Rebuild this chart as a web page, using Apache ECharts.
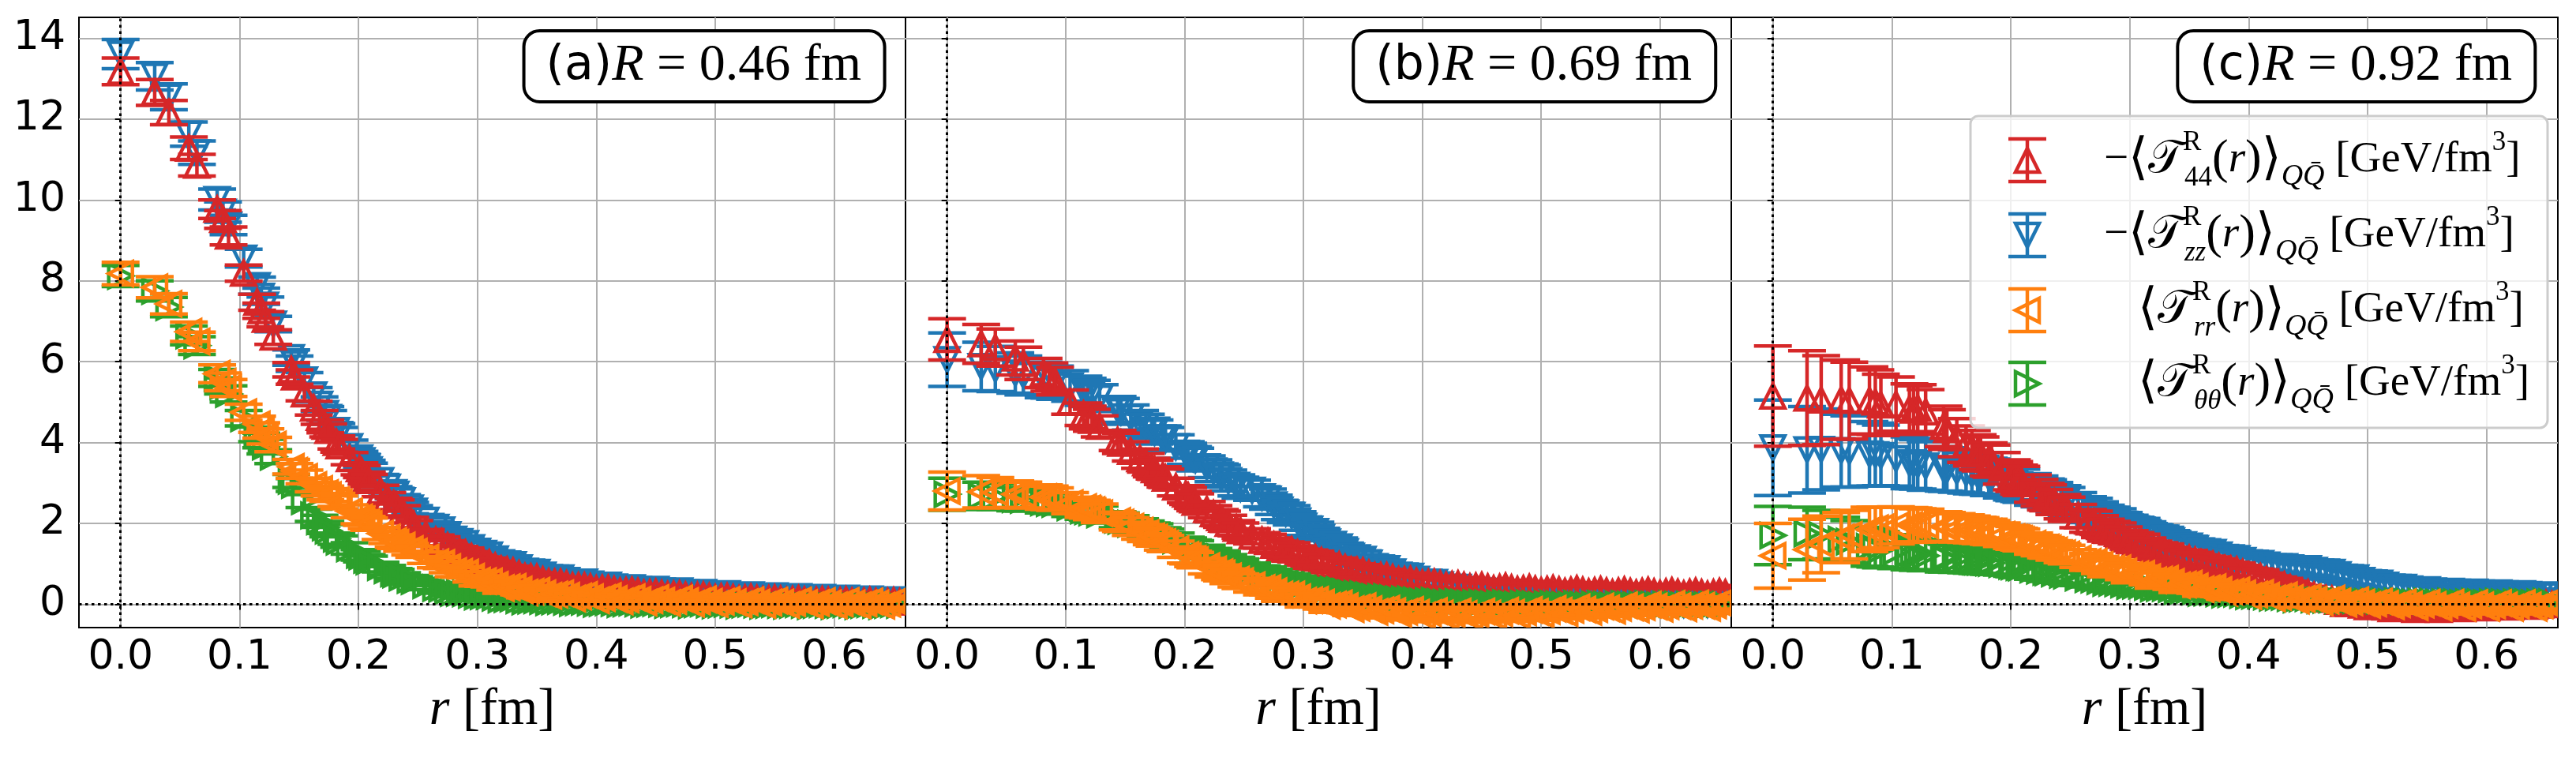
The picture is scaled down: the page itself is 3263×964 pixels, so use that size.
<!DOCTYPE html>
<html>
<head>
<meta charset="utf-8">
<title>QQbar EMT distributions</title>
<script src="https://cdn.jsdelivr.net/npm/echarts@6/dist/echarts.min.js"></script>
<style>
  html, body { margin: 0; padding: 0; background: #fff; }
  #chart { width: 3263px; height: 964px; }
</style>
</head>
<body>
<div id="chart"></div>
<script>
// distance from the Q-Qbar axis, r [fm] (shared by all panels)
const rGrid = [0, 0.0287, 0.0406, 0.0574, 0.0642, 0.0812, 0.0861, 0.0908, 0.1035, 0.1148, 0.1183, 0.1218, 0.1284,
  0.1435, 0.1463, 0.1546, 0.1624, 0.1673, 0.1722, 0.1746, 0.1815, 0.1838, 0.1925,
  0.2009, 0.2029, 0.2070, 0.2089, 0.2186, 0.2242, 0.2296, 0.2314, 0.2367, 0.2435, 0.2469, 0.2567,
  0.265, 0.27, 0.275, 0.28, 0.285, 0.29, 0.295, 0.3, 0.305, 0.31, 0.315, 0.32, 0.325, 0.33, 0.335, 0.34, 0.345, 0.35, 0.355, 0.36,
  0.365, 0.37, 0.375, 0.38, 0.385, 0.39, 0.395, 0.4, 0.405, 0.41, 0.415, 0.42, 0.425, 0.43, 0.435, 0.44, 0.445, 0.45, 0.455, 0.46,
  0.465, 0.47, 0.475, 0.48, 0.485, 0.49, 0.495, 0.5, 0.505, 0.51, 0.515, 0.52, 0.525, 0.53, 0.535, 0.54, 0.545, 0.55, 0.555, 0.56,
  0.565, 0.57, 0.575, 0.58, 0.585, 0.59, 0.595, 0.6, 0.605, 0.61, 0.615, 0.62, 0.625, 0.63, 0.635, 0.64, 0.645, 0.65, 0.655];

const xTicks = [0, 0.1, 0.2, 0.3, 0.4, 0.5, 0.6];
const yTicks = [0, 2, 4, 6, 8, 10, 12, 14];

// (a) R = 0.46 fm
const aT44 = [13.18, 12.66, 12.16, 11.28, 10.86, 9.77, 9.52, 9.11, 8.19, 7.47, 7.26, 7.05, 6.61,
  5.80, 5.62, 5.20, 4.85, 4.62, 4.40, 4.30, 4.00, 3.92, 3.60,
  3.35, 3.28, 3.12, 3.06, 2.80, 2.62, 2.48, 2.44, 2.30, 2.02, 1.94, 1.72,
  1.58, 1.54, 1.44, 1.33, 1.30, 1.26, 1.17, 1.08, 1.05, 1.02, 0.94, 0.86, 0.84, 0.82, 0.75, 0.68, 0.67, 0.66, 0.60, 0.55,
  0.54, 0.54, 0.50, 0.45, 0.45, 0.45, 0.42, 0.38, 0.39, 0.39, 0.36, 0.32, 0.33, 0.34, 0.31, 0.27, 0.28, 0.29, 0.26, 0.23,
  0.24, 0.25, 0.22, 0.19, 0.21, 0.22, 0.19, 0.16, 0.18, 0.19, 0.16, 0.13, 0.15, 0.17, 0.14, 0.11, 0.13, 0.15, 0.12, 0.09,
  0.11, 0.13, 0.10, 0.07, 0.09, 0.11, 0.09, 0.06, 0.08, 0.10, 0.07, 0.05, 0.07, 0.09, 0.06, 0.04, 0.06, 0.08, 0.05];
const aE44 = [0.33, 0.32, 0.30, 0.28, 0.27, 0.23, 0.22, 0.22, 0.20, 0.20, 0.19, 0.19, 0.18,
  0.18, 0.18, 0.17, 0.17, 0.17, 0.16, 0.16, 0.16, 0.16, 0.15,
  0.15, 0.15, 0.15, 0.15, 0.14, 0.14, 0.14, 0.14, 0.14, 0.13, 0.13, 0.13,
  0.13, 0.13, 0.13, 0.13, 0.13, 0.13, 0.13, 0.13, 0.12, 0.12, 0.12, 0.12, 0.12, 0.12, 0.12, 0.12, 0.12, 0.12, 0.12, 0.12,
  0.12, 0.12, 0.12, 0.12, 0.11, 0.11, 0.11, 0.11, 0.11, 0.11, 0.11, 0.11, 0.11, 0.11, 0.11, 0.11, 0.11, 0.11, 0.11, 0.11,
  0.10, 0.10, 0.10, 0.10, 0.10, 0.10, 0.10, 0.10, 0.10, 0.10, 0.10, 0.10, 0.10, 0.10, 0.10, 0.10, 0.10, 0.10, 0.10, 0.10,
  0.10, 0.10, 0.10, 0.10, 0.10, 0.10, 0.10, 0.10, 0.10, 0.10, 0.10, 0.10, 0.10, 0.10, 0.10, 0.10, 0.10, 0.10, 0.10];
const aZZ = [13.61, 13.06, 12.55, 11.63, 11.17, 10.01, 9.70, 9.38, 8.56, 7.88, 7.62, 7.40, 6.93,
  6.10, 5.95, 5.55, 5.18, 4.95, 4.72, 4.62, 4.30, 4.20, 3.90,
  3.62, 3.55, 3.40, 3.33, 3.06, 2.90, 2.76, 2.72, 2.56, 2.38, 2.30, 2.08,
  1.90, 1.84, 1.72, 1.61, 1.55, 1.50, 1.40, 1.31, 1.26, 1.22, 1.12, 1.03, 1.00, 0.98, 0.90, 0.82, 0.80, 0.79, 0.72, 0.66,
  0.65, 0.65, 0.59, 0.54, 0.54, 0.55, 0.50, 0.45, 0.46, 0.47, 0.43, 0.39, 0.40, 0.41, 0.37, 0.33, 0.35, 0.37, 0.33, 0.29,
  0.31, 0.33, 0.29, 0.25, 0.27, 0.29, 0.25, 0.22, 0.24, 0.26, 0.22, 0.19, 0.21, 0.23, 0.20, 0.17, 0.19, 0.21, 0.18, 0.15,
  0.17, 0.19, 0.16, 0.13, 0.15, 0.17, 0.14, 0.11, 0.13, 0.15, 0.12, 0.09, 0.11, 0.13, 0.10, 0.07, 0.09, 0.11, 0.08];
const aEZZ = [0.36, 0.34, 0.32, 0.30, 0.29, 0.26, 0.25, 0.24, 0.22, 0.21, 0.20, 0.20, 0.19,
  0.19, 0.19, 0.18, 0.18, 0.18, 0.17, 0.17, 0.17, 0.17, 0.16,
  0.16, 0.16, 0.16, 0.16, 0.15, 0.15, 0.15, 0.15, 0.15, 0.14, 0.14, 0.14,
  0.14, 0.14, 0.14, 0.14, 0.13, 0.13, 0.13, 0.13, 0.13, 0.13, 0.13, 0.13, 0.13, 0.13, 0.12, 0.12, 0.12, 0.12, 0.12, 0.12,
  0.12, 0.12, 0.11, 0.11, 0.11, 0.11, 0.11, 0.11, 0.11, 0.11, 0.11, 0.11, 0.11, 0.11, 0.11, 0.11, 0.10, 0.10, 0.10, 0.10,
  0.10, 0.10, 0.10, 0.10, 0.10, 0.10, 0.10, 0.10, 0.10, 0.10, 0.10, 0.10, 0.10, 0.10, 0.10, 0.10, 0.10, 0.10, 0.10, 0.10,
  0.10, 0.10, 0.10, 0.10, 0.10, 0.10, 0.10, 0.10, 0.10, 0.10, 0.10, 0.10, 0.10, 0.10, 0.10, 0.10, 0.10, 0.10, 0.10];
const aRR = [8.18, 7.84, 7.43, 6.74, 6.50, 5.70, 5.50, 5.35, 4.75, 4.45, 4.30, 4.15, 3.95,
  3.40, 3.30, 3.15, 2.95, 2.85, 2.75, 2.70, 2.58, 2.52, 2.30,
  2.15, 2.10, 2.02, 1.98, 1.75, 1.65, 1.56, 1.52, 1.45, 1.36, 1.30, 1.15,
  1.04, 1.02, 0.92, 0.82, 0.80, 0.78, 0.68, 0.58, 0.57, 0.56, 0.48, 0.40, 0.42, 0.43, 0.36, 0.29, 0.31, 0.33, 0.27, 0.21,
  0.24, 0.27, 0.21, 0.14, 0.19, 0.23, 0.17, 0.10, 0.15, 0.20, 0.13, 0.07, 0.12, 0.17, 0.11, 0.04, 0.10, 0.15, 0.09, 0.03,
  0.08, 0.14, 0.08, 0.01, 0.07, 0.12, 0.06, 0.00, 0.06, 0.11, 0.05, -0.01, 0.05, 0.10, 0.04, -0.02, 0.04, 0.09, 0.04, -0.02,
  0.03, 0.09, 0.03, -0.03, 0.03, 0.08, 0.02, -0.03, 0.02, 0.08, 0.02, -0.03, 0.02, 0.07, 0.02, -0.04, 0.01, 0.07, 0.01];
const aERR = [0.28, 0.26, 0.25, 0.24, 0.23, 0.22, 0.22, 0.21, 0.20, 0.20, 0.19, 0.19, 0.18,
  0.18, 0.18, 0.17, 0.17, 0.17, 0.17, 0.16, 0.16, 0.16, 0.16,
  0.16, 0.15, 0.15, 0.15, 0.15, 0.15, 0.15, 0.14, 0.14, 0.14, 0.14, 0.14,
  0.14, 0.14, 0.14, 0.14, 0.13, 0.13, 0.13, 0.13, 0.13, 0.13, 0.13, 0.13, 0.13, 0.13, 0.13, 0.13, 0.13, 0.13, 0.13, 0.13,
  0.12, 0.12, 0.12, 0.12, 0.12, 0.12, 0.12, 0.12, 0.12, 0.12, 0.12, 0.12, 0.12, 0.12, 0.12, 0.12, 0.12, 0.12, 0.12, 0.12,
  0.12, 0.12, 0.12, 0.12, 0.12, 0.12, 0.12, 0.12, 0.12, 0.12, 0.12, 0.12, 0.12, 0.12, 0.12, 0.12, 0.12, 0.12, 0.12, 0.12,
  0.12, 0.12, 0.12, 0.12, 0.12, 0.12, 0.12, 0.12, 0.12, 0.12, 0.12, 0.12, 0.12, 0.12, 0.12, 0.12, 0.12, 0.12, 0.12];
const aTT = [8.12, 7.75, 7.35, 6.65, 6.40, 5.60, 5.40, 5.20, 4.60, 4.20, 4.05, 3.90, 3.65,
  3.05, 2.95, 2.55, 2.20, 2.05, 1.90, 1.82, 1.62, 1.55, 1.38,
  1.22, 1.18, 1.10, 1.06, 0.92, 0.84, 0.76, 0.74, 0.66, 0.60, 0.57, 0.47,
  0.40, 0.38, 0.33, 0.28, 0.28, 0.27, 0.23, 0.19, 0.20, 0.20, 0.16, 0.12, 0.13, 0.14, 0.10, 0.07, 0.09, 0.10, 0.08, 0.05,
  0.07, 0.08, 0.06, 0.03, 0.05, 0.06, 0.04, 0.01, 0.03, 0.05, 0.03, 0.00, 0.02, 0.04, 0.02, -0.01, 0.01, 0.03, 0.01, -0.02,
  0.00, 0.02, 0.00, -0.03, 0.00, 0.02, -0.01, -0.03, -0.01, 0.01, -0.01, -0.04, -0.01, 0.01, -0.01, -0.04, -0.02, 0.00, -0.02, -0.04,
  -0.02, 0.00, -0.02, -0.05, -0.02, 0.00, -0.02, -0.05, -0.02, 0.00, -0.02, -0.05, -0.02, 0.00, -0.02, -0.05, -0.02, 0.00, -0.02];
const aETT = [0.26, 0.25, 0.24, 0.23, 0.22, 0.21, 0.20, 0.20, 0.19, 0.18, 0.18, 0.18, 0.17,
  0.16, 0.16, 0.16, 0.15, 0.15, 0.15, 0.15, 0.14, 0.14, 0.14,
  0.13, 0.13, 0.13, 0.13, 0.12, 0.12, 0.12, 0.12, 0.12, 0.11, 0.11, 0.11,
  0.11, 0.11, 0.10, 0.10, 0.10, 0.10, 0.10, 0.10, 0.10, 0.10, 0.09, 0.09, 0.09, 0.09, 0.09, 0.09, 0.09, 0.09, 0.09, 0.09,
  0.08, 0.08, 0.08, 0.08, 0.08, 0.08, 0.08, 0.08, 0.08, 0.08, 0.08, 0.08, 0.08, 0.08, 0.08, 0.08, 0.08, 0.08, 0.08, 0.08,
  0.08, 0.08, 0.08, 0.08, 0.08, 0.08, 0.08, 0.08, 0.08, 0.08, 0.08, 0.08, 0.08, 0.08, 0.08, 0.08, 0.08, 0.08, 0.08, 0.08,
  0.08, 0.08, 0.08, 0.08, 0.08, 0.08, 0.08, 0.08, 0.08, 0.08, 0.08, 0.08, 0.08, 0.08, 0.08, 0.08, 0.08, 0.08, 0.08];

// (b) R = 0.69 fm
const bT44 = [6.55, 6.44, 6.35, 6.09, 5.96, 5.72, 5.62, 5.52, 5.00, 4.70, 4.62, 4.55, 4.40,
  4.05, 3.98, 3.78, 3.60, 3.50, 3.38, 3.33, 3.18, 3.12, 2.90,
  2.72, 2.68, 2.58, 2.52, 2.34, 2.24, 2.14, 2.10, 2.00, 1.88, 1.82, 1.68,
  1.58, 1.55, 1.46, 1.38, 1.36, 1.34, 1.26, 1.18, 1.16, 1.14, 1.07, 0.99, 0.98, 0.97, 0.90, 0.84, 0.83, 0.82, 0.76, 0.70,
  0.70, 0.70, 0.65, 0.60, 0.60, 0.61, 0.56, 0.52, 0.53, 0.54, 0.50, 0.46, 0.48, 0.50, 0.46, 0.42, 0.44, 0.46, 0.42, 0.38,
  0.41, 0.44, 0.40, 0.36, 0.38, 0.41, 0.37, 0.33, 0.36, 0.39, 0.35, 0.31, 0.34, 0.38, 0.34, 0.30, 0.33, 0.36, 0.32, 0.28,
  0.32, 0.35, 0.31, 0.27, 0.31, 0.34, 0.30, 0.26, 0.30, 0.33, 0.29, 0.25, 0.29, 0.32, 0.28, 0.24, 0.28, 0.31, 0.28];
const bE44 = [0.51, 0.48, 0.46, 0.42, 0.40, 0.36, 0.35, 0.34, 0.30, 0.28, 0.28, 0.27, 0.26,
  0.25, 0.25, 0.24, 0.24, 0.23, 0.23, 0.23, 0.22, 0.22, 0.22,
  0.21, 0.21, 0.21, 0.21, 0.20, 0.20, 0.20, 0.20, 0.20, 0.19, 0.19, 0.19,
  0.19, 0.18, 0.18, 0.18, 0.18, 0.18, 0.18, 0.18, 0.18, 0.17, 0.17, 0.17, 0.17, 0.17, 0.17, 0.17, 0.17, 0.16, 0.16, 0.16,
  0.16, 0.16, 0.16, 0.16, 0.16, 0.16, 0.15, 0.15, 0.15, 0.15, 0.15, 0.15, 0.15, 0.15, 0.15, 0.15, 0.15, 0.15, 0.15, 0.15,
  0.15, 0.15, 0.15, 0.15, 0.15, 0.15, 0.15, 0.15, 0.15, 0.15, 0.15, 0.15, 0.15, 0.15, 0.15, 0.15, 0.15, 0.15, 0.15, 0.15,
  0.15, 0.15, 0.15, 0.15, 0.15, 0.15, 0.15, 0.15, 0.15, 0.15, 0.15, 0.15, 0.15, 0.15, 0.15, 0.15, 0.15, 0.15, 0.15];
const bZZ = [6.05, 5.88, 5.82, 5.72, 5.66, 5.55, 5.52, 5.48, 5.40, 5.28, 5.24, 5.20, 5.10,
  4.82, 4.77, 4.62, 4.48, 4.40, 4.30, 4.26, 4.12, 4.08, 3.90,
  3.74, 3.70, 3.62, 3.58, 3.40, 3.30, 3.20, 3.17, 3.06, 2.94, 2.88, 2.82,
  2.66, 2.60, 2.46, 2.33, 2.26, 2.20, 2.06, 1.93, 1.86, 1.80, 1.66, 1.54, 1.48, 1.42, 1.30, 1.19, 1.15, 1.11, 1.02, 0.93,
  0.90, 0.88, 0.80, 0.72, 0.70, 0.69, 0.62, 0.55, 0.55, 0.54, 0.48, 0.42, 0.42, 0.42, 0.37, 0.32, 0.32, 0.33, 0.28, 0.23,
  0.24, 0.25, 0.20, 0.16, 0.17, 0.19, 0.15, 0.11, 0.13, 0.15, 0.11, 0.08, 0.10, 0.12, 0.09, 0.06, 0.08, 0.10, 0.07, 0.04,
  0.06, 0.09, 0.06, 0.03, 0.05, 0.08, 0.05, 0.02, 0.04, 0.07, 0.04, 0.01, 0.04, 0.06, 0.03, 0.01, 0.03, 0.06, 0.03];
const bEZZ = [0.66, 0.60, 0.56, 0.50, 0.48, 0.44, 0.42, 0.41, 0.38, 0.36, 0.35, 0.34, 0.33,
  0.32, 0.32, 0.31, 0.31, 0.30, 0.30, 0.30, 0.29, 0.29, 0.29,
  0.28, 0.28, 0.28, 0.28, 0.27, 0.27, 0.27, 0.27, 0.26, 0.26, 0.26, 0.25,
  0.25, 0.25, 0.24, 0.24, 0.24, 0.24, 0.23, 0.23, 0.23, 0.23, 0.22, 0.22, 0.22, 0.22, 0.21, 0.21, 0.21, 0.21, 0.20, 0.20,
  0.20, 0.20, 0.19, 0.19, 0.19, 0.19, 0.18, 0.18, 0.18, 0.18, 0.17, 0.17, 0.17, 0.17, 0.16, 0.16, 0.16, 0.16, 0.15, 0.15,
  0.15, 0.15, 0.15, 0.15, 0.14, 0.14, 0.14, 0.14, 0.14, 0.14, 0.13, 0.13, 0.13, 0.13, 0.13, 0.13, 0.13, 0.13, 0.12, 0.12,
  0.12, 0.12, 0.12, 0.12, 0.12, 0.12, 0.12, 0.12, 0.12, 0.12, 0.12, 0.12, 0.12, 0.12, 0.12, 0.12, 0.12, 0.12, 0.12];
const bRR = [2.80, 2.78, 2.76, 2.72, 2.70, 2.65, 2.63, 2.60, 2.50, 2.40, 2.37, 2.33, 2.25,
  2.06, 2.02, 1.92, 1.82, 1.76, 1.68, 1.65, 1.54, 1.50, 1.36,
  1.22, 1.19, 1.12, 1.09, 0.94, 0.86, 0.79, 0.76, 0.69, 0.61, 0.57, 0.47,
  0.40, 0.40, 0.32, 0.24, 0.24, 0.24, 0.17, 0.09, 0.10, 0.11, 0.04, -0.04, -0.01, 0.02, -0.05, -0.12, -0.09, -0.05, -0.12, -0.19,
  -0.15, -0.11, -0.17, -0.24, -0.19, -0.14, -0.21, -0.28, -0.22, -0.17, -0.23, -0.29, -0.24, -0.18, -0.24, -0.30, -0.24, -0.18, -0.23, -0.29,
  -0.22, -0.16, -0.21, -0.27, -0.20, -0.14, -0.19, -0.25, -0.17, -0.11, -0.16, -0.22, -0.14, -0.08, -0.13, -0.19, -0.12, -0.06, -0.10, -0.16,
  -0.09, -0.03, -0.08, -0.13, -0.07, -0.01, -0.06, -0.11, -0.05, 0.01, -0.05, -0.10, -0.04, 0.02, -0.04, -0.09, -0.03, 0.03, -0.03];
const bERR = [0.47, 0.40, 0.37, 0.33, 0.32, 0.30, 0.29, 0.28, 0.26, 0.25, 0.24, 0.24, 0.23,
  0.22, 0.22, 0.22, 0.21, 0.21, 0.21, 0.21, 0.20, 0.20, 0.20,
  0.20, 0.19, 0.19, 0.19, 0.19, 0.19, 0.18, 0.18, 0.18, 0.18, 0.18, 0.17,
  0.17, 0.17, 0.17, 0.17, 0.17, 0.17, 0.16, 0.16, 0.16, 0.16, 0.16, 0.16, 0.16, 0.16, 0.16, 0.16, 0.15, 0.15, 0.15, 0.15,
  0.15, 0.15, 0.15, 0.15, 0.15, 0.15, 0.15, 0.15, 0.15, 0.15, 0.15, 0.15, 0.15, 0.15, 0.15, 0.15, 0.15, 0.15, 0.15, 0.15,
  0.15, 0.15, 0.15, 0.15, 0.15, 0.15, 0.15, 0.15, 0.15, 0.15, 0.15, 0.15, 0.15, 0.15, 0.15, 0.15, 0.15, 0.15, 0.15, 0.15,
  0.15, 0.15, 0.15, 0.15, 0.15, 0.15, 0.15, 0.15, 0.15, 0.15, 0.15, 0.15, 0.15, 0.15, 0.15, 0.15, 0.15, 0.15, 0.15];
const bTT = [2.72, 2.68, 2.66, 2.60, 2.58, 2.52, 2.50, 2.48, 2.40, 2.32, 2.30, 2.27, 2.22,
  2.09, 2.06, 1.99, 1.92, 1.87, 1.82, 1.80, 1.71, 1.68, 1.58,
  1.49, 1.47, 1.42, 1.40, 1.29, 1.22, 1.16, 1.14, 1.07, 1.00, 0.97, 0.87,
  0.80, 0.77, 0.71, 0.65, 0.63, 0.61, 0.55, 0.49, 0.48, 0.47, 0.42, 0.37, 0.36, 0.35, 0.31, 0.27, 0.26, 0.25, 0.22, 0.18,
  0.18, 0.18, 0.15, 0.12, 0.12, 0.12, 0.10, 0.07, 0.08, 0.09, 0.06, 0.04, 0.05, 0.06, 0.04, 0.02, 0.03, 0.04, 0.02, 0.00,
  0.02, 0.03, 0.01, -0.01, 0.01, 0.02, 0.00, -0.02, 0.00, 0.01, 0.00, -0.02, -0.01, 0.01, -0.01, -0.03, -0.01, 0.01, -0.01, -0.03,
  -0.01, 0.01, -0.01, -0.03, -0.01, 0.01, -0.01, -0.03, -0.01, 0.01, -0.01, -0.03, -0.01, 0.01, -0.01, -0.03, -0.01, 0.01, -0.01];
const bETT = [0.40, 0.34, 0.32, 0.29, 0.28, 0.26, 0.25, 0.25, 0.23, 0.22, 0.22, 0.21, 0.21,
  0.20, 0.20, 0.20, 0.19, 0.19, 0.19, 0.19, 0.18, 0.18, 0.18,
  0.17, 0.17, 0.17, 0.17, 0.17, 0.16, 0.16, 0.16, 0.16, 0.16, 0.15, 0.15,
  0.15, 0.15, 0.15, 0.15, 0.14, 0.14, 0.14, 0.14, 0.14, 0.14, 0.14, 0.14, 0.13, 0.13, 0.13, 0.13, 0.13, 0.13, 0.13, 0.13,
  0.13, 0.13, 0.12, 0.12, 0.12, 0.12, 0.12, 0.12, 0.12, 0.12, 0.12, 0.12, 0.12, 0.12, 0.12, 0.12, 0.12, 0.12, 0.12, 0.12,
  0.12, 0.12, 0.12, 0.12, 0.12, 0.12, 0.12, 0.12, 0.12, 0.12, 0.12, 0.12, 0.12, 0.12, 0.12, 0.12, 0.12, 0.12, 0.12, 0.12,
  0.12, 0.12, 0.12, 0.12, 0.12, 0.12, 0.12, 0.12, 0.12, 0.12, 0.12, 0.12, 0.12, 0.12, 0.12, 0.12, 0.12, 0.12, 0.12];

// (c) R = 0.92 fm
const cT44 = [5.15, 5.10, 5.05, 5.06, 5.04, 5.04, 5.00, 4.93, 4.95, 4.83, 4.80, 4.85, 4.76,
  4.40, 4.32, 4.12, 3.96, 3.86, 3.76, 3.72, 3.58, 3.54, 3.36,
  3.20, 3.16, 3.08, 3.05, 2.86, 2.76, 2.66, 2.63, 2.53, 2.41, 2.35, 2.18,
  2.06, 2.02, 1.92, 1.83, 1.79, 1.75, 1.66, 1.57, 1.53, 1.49, 1.41, 1.33, 1.30, 1.27, 1.20, 1.14, 1.14, 1.13, 1.08, 1.02,
  1.00, 0.98, 0.93, 0.87, 0.86, 0.84, 0.78, 0.71, 0.69, 0.67, 0.60, 0.53, 0.50, 0.47, 0.40, 0.33, 0.30, 0.28, 0.21, 0.15,
  0.13, 0.12, 0.07, 0.02, 0.02, 0.02, -0.02, -0.06, -0.05, -0.03, -0.07, -0.11, -0.09, -0.07, -0.10, -0.13, -0.10, -0.07, -0.10, -0.13,
  -0.09, -0.06, -0.08, -0.11, -0.07, -0.04, -0.06, -0.09, -0.05, -0.02, -0.04, -0.07, -0.03, 0.00, -0.02, -0.05, -0.02, 0.01, -0.01];
const cE44 = [1.24, 1.17, 1.10, 0.98, 0.95, 0.83, 0.80, 0.76, 0.67, 0.62, 0.60, 0.58, 0.55,
  0.50, 0.49, 0.47, 0.45, 0.44, 0.43, 0.42, 0.41, 0.40, 0.39,
  0.37, 0.37, 0.36, 0.36, 0.34, 0.33, 0.33, 0.32, 0.31, 0.30, 0.30, 0.29,
  0.28, 0.28, 0.27, 0.27, 0.26, 0.26, 0.25, 0.25, 0.24, 0.24, 0.23, 0.23, 0.22, 0.22, 0.21, 0.21, 0.20, 0.20, 0.20, 0.20,
  0.19, 0.19, 0.19, 0.19, 0.18, 0.18, 0.18, 0.18, 0.18, 0.18, 0.17, 0.17, 0.17, 0.17, 0.17, 0.17, 0.16, 0.16, 0.16, 0.16,
  0.16, 0.16, 0.16, 0.16, 0.16, 0.16, 0.15, 0.15, 0.15, 0.15, 0.15, 0.15, 0.15, 0.15, 0.15, 0.15, 0.15, 0.15, 0.15, 0.15,
  0.15, 0.15, 0.15, 0.15, 0.15, 0.15, 0.15, 0.15, 0.15, 0.15, 0.15, 0.15, 0.15, 0.15, 0.15, 0.15, 0.15, 0.15, 0.15];
const cZZ = [3.87, 3.82, 3.83, 3.80, 3.78, 3.72, 3.70, 3.68, 3.60, 3.50, 3.48, 3.46, 3.42,
  3.35, 3.33, 3.29, 3.25, 3.22, 3.20, 3.19, 3.15, 3.14, 3.07,
  3.00, 2.98, 2.95, 2.93, 2.84, 2.79, 2.73, 2.71, 2.65, 2.58, 2.54, 2.43,
  2.34, 2.30, 2.22, 2.14, 2.10, 2.06, 1.98, 1.91, 1.87, 1.84, 1.77, 1.70, 1.67, 1.64, 1.57, 1.50, 1.47, 1.44, 1.38, 1.32,
  1.30, 1.28, 1.22, 1.16, 1.15, 1.13, 1.08, 1.03, 1.02, 1.01, 0.97, 0.93, 0.93, 0.93, 0.90, 0.86, 0.87, 0.88, 0.84, 0.80,
  0.80, 0.79, 0.73, 0.67, 0.66, 0.65, 0.59, 0.54, 0.53, 0.52, 0.47, 0.43, 0.42, 0.42, 0.38, 0.35, 0.35, 0.36, 0.33, 0.30,
  0.31, 0.32, 0.30, 0.27, 0.29, 0.30, 0.28, 0.25, 0.27, 0.28, 0.26, 0.23, 0.25, 0.26, 0.24, 0.21, 0.22, 0.23, 0.21];
const cEZZ = [1.18, 1.07, 1.00, 0.90, 0.88, 0.80, 0.78, 0.75, 0.68, 0.64, 0.62, 0.61, 0.60,
  0.55, 0.54, 0.52, 0.50, 0.49, 0.48, 0.47, 0.46, 0.45, 0.44,
  0.42, 0.42, 0.41, 0.41, 0.39, 0.38, 0.37, 0.37, 0.36, 0.35, 0.35, 0.33,
  0.32, 0.32, 0.31, 0.31, 0.30, 0.30, 0.29, 0.29, 0.28, 0.28, 0.27, 0.27, 0.26, 0.26, 0.25, 0.25, 0.24, 0.24, 0.23, 0.23,
  0.22, 0.22, 0.21, 0.21, 0.21, 0.21, 0.20, 0.20, 0.20, 0.20, 0.19, 0.19, 0.19, 0.19, 0.18, 0.18, 0.18, 0.18, 0.17, 0.17,
  0.17, 0.17, 0.17, 0.17, 0.16, 0.16, 0.16, 0.16, 0.16, 0.16, 0.16, 0.16, 0.15, 0.15, 0.15, 0.15, 0.15, 0.15, 0.15, 0.15,
  0.15, 0.15, 0.15, 0.15, 0.15, 0.15, 0.15, 0.15, 0.15, 0.15, 0.15, 0.15, 0.15, 0.15, 0.15, 0.15, 0.15, 0.15, 0.15];
const cRR = [1.20, 1.35, 1.48, 1.65, 1.72, 1.85, 1.88, 1.90, 1.95, 1.96, 1.96, 1.95, 1.95,
  1.92, 1.91, 1.89, 1.87, 1.85, 1.83, 1.82, 1.79, 1.77, 1.72,
  1.66, 1.64, 1.61, 1.59, 1.50, 1.45, 1.40, 1.38, 1.33, 1.26, 1.23, 1.13,
  1.05, 1.05, 0.97, 0.89, 0.89, 0.89, 0.81, 0.73, 0.74, 0.75, 0.67, 0.59, 0.61, 0.63, 0.55, 0.47, 0.49, 0.51, 0.44, 0.37,
  0.39, 0.42, 0.35, 0.28, 0.31, 0.34, 0.27, 0.20, 0.24, 0.28, 0.21, 0.14, 0.18, 0.22, 0.15, 0.09, 0.13, 0.17, 0.11, 0.05,
  0.09, 0.14, 0.07, 0.01, 0.05, 0.10, 0.04, -0.02, 0.02, 0.07, 0.01, -0.05, 0.00, 0.05, -0.01, -0.07, -0.01, 0.04, -0.02, -0.08,
  -0.02, 0.04, -0.03, -0.09, -0.03, 0.03, -0.03, -0.09, -0.03, 0.03, -0.03, -0.09, -0.03, 0.03, -0.03, -0.09, -0.03, 0.03, -0.03];
const cERR = [0.80, 0.75, 0.70, 0.62, 0.60, 0.55, 0.52, 0.50, 0.46, 0.43, 0.42, 0.41, 0.40,
  0.37, 0.36, 0.35, 0.34, 0.33, 0.32, 0.32, 0.31, 0.30, 0.29,
  0.28, 0.28, 0.27, 0.27, 0.26, 0.25, 0.25, 0.24, 0.24, 0.23, 0.23, 0.22,
  0.21, 0.21, 0.21, 0.21, 0.20, 0.20, 0.20, 0.20, 0.19, 0.19, 0.19, 0.19, 0.18, 0.18, 0.18, 0.18, 0.17, 0.17, 0.17, 0.17,
  0.17, 0.17, 0.16, 0.16, 0.16, 0.16, 0.16, 0.16, 0.16, 0.16, 0.15, 0.15, 0.15, 0.15, 0.15, 0.15, 0.15, 0.15, 0.15, 0.15,
  0.15, 0.15, 0.15, 0.15, 0.15, 0.15, 0.15, 0.15, 0.15, 0.15, 0.15, 0.15, 0.15, 0.15, 0.15, 0.15, 0.15, 0.15, 0.15, 0.15,
  0.15, 0.15, 0.15, 0.15, 0.15, 0.15, 0.15, 0.15, 0.15, 0.15, 0.15, 0.15, 0.15, 0.15, 0.15, 0.15, 0.15, 0.15, 0.15];
const cTT = [1.70, 1.75, 1.72, 1.60, 1.55, 1.42, 1.38, 1.35, 1.30, 1.25, 1.24, 1.22, 1.20,
  1.15, 1.14, 1.12, 1.10, 1.08, 1.06, 1.05, 1.03, 1.02, 0.99,
  0.95, 0.94, 0.92, 0.91, 0.86, 0.83, 0.80, 0.79, 0.76, 0.73, 0.71, 0.66,
  0.62, 0.61, 0.57, 0.53, 0.53, 0.52, 0.49, 0.45, 0.46, 0.46, 0.43, 0.39, 0.40, 0.40, 0.37, 0.33, 0.34, 0.35, 0.32, 0.28,
  0.29, 0.30, 0.27, 0.24, 0.25, 0.26, 0.23, 0.20, 0.21, 0.22, 0.19, 0.16, 0.17, 0.18, 0.15, 0.12, 0.14, 0.15, 0.12, 0.10,
  0.11, 0.12, 0.10, 0.07, 0.09, 0.10, 0.08, 0.06, 0.08, 0.09, 0.07, 0.05, 0.07, 0.08, 0.06, 0.04, 0.06, 0.07, 0.06, 0.04,
  0.05, 0.07, 0.05, 0.03, 0.05, 0.07, 0.05, 0.03, 0.05, 0.07, 0.05, 0.03, 0.05, 0.07, 0.05, 0.03, 0.05, 0.07, 0.05];
const cETT = [0.72, 0.65, 0.60, 0.55, 0.52, 0.48, 0.46, 0.45, 0.42, 0.40, 0.39, 0.38, 0.37,
  0.35, 0.34, 0.33, 0.32, 0.31, 0.30, 0.30, 0.29, 0.28, 0.27,
  0.26, 0.26, 0.25, 0.25, 0.24, 0.23, 0.23, 0.22, 0.22, 0.21, 0.21, 0.20,
  0.19, 0.19, 0.19, 0.19, 0.18, 0.18, 0.18, 0.18, 0.17, 0.17, 0.17, 0.17, 0.16, 0.16, 0.16, 0.16, 0.16, 0.16, 0.15, 0.15,
  0.15, 0.15, 0.15, 0.15, 0.15, 0.15, 0.14, 0.14, 0.14, 0.14, 0.14, 0.14, 0.14, 0.14, 0.14, 0.14, 0.13, 0.13, 0.13, 0.13,
  0.13, 0.13, 0.13, 0.13, 0.13, 0.13, 0.13, 0.13, 0.13, 0.13, 0.13, 0.13, 0.13, 0.13, 0.13, 0.13, 0.13, 0.13, 0.13, 0.13,
  0.13, 0.13, 0.13, 0.13, 0.13, 0.13, 0.13, 0.13, 0.13, 0.13, 0.13, 0.13, 0.13, 0.13, 0.13, 0.13, 0.13, 0.13, 0.13];

const panelTags = ['(a)', '(b)', '(c)'];
const panelR = ['0.46', '0.69', '0.92'];

const panels = [
  { left: 100, width: 1047, titleRight: 2142,
    t44: [aT44, aE44], zz: [aZZ, aEZZ], rr: [aRR, aERR], tt: [aTT, aETT] },
  { left: 1147, width: 1046, titleRight: 1090,
    t44: [bT44, bE44], zz: [bZZ, bEZZ], rr: [bRR, bERR], tt: [bTT, bETT] },
  { left: 2193, width: 1047, titleRight: 51,
    t44: [cT44, cE44], zz: [cZZ, cEZZ], rr: [cRR, cERR], tt: [cTT, cETT] }
];

// drawing order: blue under red, green under orange
const comps = [
  { key: 'zz', color: '#1f77b4', dir: 'down' },
  { key: 't44', color: '#d62728', dir: 'up' },
  { key: 'tt', color: '#2ca02c', dir: 'right' },
  { key: 'rr', color: '#ff7f0e', dir: 'left' }
];

const GRID_TOP = 22, GRID_H = 773;
const CAP = 24, BAR_W = 4.5, MK = 15, MK_W = 4.5;
const SERIF = "'Liberation Serif', 'DejaVu Serif', serif";

function tri(cx, cy, dir, h) {
  if (dir === 'up') return [[cx, cy - h], [cx - h, cy + h], [cx + h, cy + h]];
  if (dir === 'down') return [[cx, cy + h], [cx - h, cy - h], [cx + h, cy - h]];
  if (dir === 'left') return [[cx - h, cy], [cx + h, cy - h], [cx + h, cy + h]];
  return [[cx + h, cy], [cx - h, cy - h], [cx - h, cy + h]];
}

// error bar with caps + open triangle, like matplotlib errorbar
function errPieces(cx, cy, yHi, yLo, dir, color) {
  const st = { stroke: color, lineWidth: BAR_W, fill: 'none' };
  return [
    { type: 'line', shape: { x1: cx, y1: yHi, x2: cx, y2: yLo }, style: st },
    { type: 'line', shape: { x1: cx - CAP, y1: yHi, x2: cx + CAP, y2: yHi }, style: st },
    { type: 'line', shape: { x1: cx - CAP, y1: yLo, x2: cx + CAP, y2: yLo }, style: st },
    { type: 'polygon', shape: { points: tri(cx, cy, dir, MK) },
      style: { stroke: color, lineWidth: MK_W, fill: 'none', lineJoin: 'miter' } }
  ];
}

function renderer(dir, color) {
  return function (params, api) {
    const r = api.value(0), v = api.value(1), e = api.value(2);
    const c = api.coord([r, v]);
    const hi = api.coord([r, v + e])[1];
    const lo = api.coord([r, v - e])[1];
    return { type: 'group', children: errPieces(c[0], c[1], hi, lo, dir, color) };
  };
}

const grid = [], xAxis = [], yAxis = [], series = [], title = [];

panels.forEach((p, i) => {
  grid.push({
    left: p.left, top: GRID_TOP, width: p.width, height: GRID_H,
    show: true, borderColor: '#000', borderWidth: 2, backgroundColor: '#fff',
    containLabel: false, outerBoundsMode: 'none'
  });
  xAxis.push({
    gridIndex: i, type: 'value', min: -0.035, max: 0.66, splitNumber: 7,
    axisLine: { show: false },
    axisTick: { show: true, length: 7, customValues: xTicks, lineStyle: { color: '#000', width: 2 } },
    axisLabel: { customValues: xTicks, formatter: v => v.toFixed(1), fontSize: 52,
      fontFamily: 'DejaVu Sans', color: '#000', margin: 12, lineHeight: 52 },
    splitLine: { show: true, lineStyle: { color: '#b0b0b0', width: 2 } },
    name: '{i|r}{n| [fm]}', nameLocation: 'middle', nameGap: 72,
    nameTextStyle: { rich: {
      i: { fontFamily: SERIF, fontStyle: 'italic', fontSize: 66, color: '#000' },
      n: { fontFamily: SERIF, fontSize: 66, color: '#000' }
    } }
  });
  yAxis.push({
    gridIndex: i, type: 'value', min: -0.578, max: 14.517, splitNumber: 7,
    axisLine: { show: false },
    axisTick: { show: true, length: 7, customValues: yTicks, lineStyle: { color: '#000', width: 2 } },
    axisLabel: { show: i === 0, customValues: yTicks, fontSize: 52, fontFamily: 'DejaVu Sans',
      color: '#000', margin: 17 },
    splitLine: { show: true, lineStyle: { color: '#b0b0b0', width: 2 } }
  });
  comps.forEach(cp => {
    const vals = p[cp.key][0], errs = p[cp.key][1];
    series.push({
      type: 'custom', xAxisIndex: i, yAxisIndex: i, clip: true, silent: true, z: 3,
      dimensions: ['r', 'v', 'err'], encode: { x: 0, y: 1 },
      data: rGrid.map((r, k) => [r, vals[k], errs[k]]),
      renderItem: renderer(cp.dir, cp.color)
    });
  });
  // dotted reference lines at r = 0 and value = 0
  series.push({
    type: 'line', xAxisIndex: i, yAxisIndex: i, data: [], z: 10, silent: true,
    markLine: {
      silent: true, symbol: ['none', 'none'], label: { show: false }, animation: false,
      lineStyle: { color: '#000', type: [3.5, 4.5], width: 3 },
      emphasis: { disabled: true },
      data: [{ yAxis: 0 }, { xAxis: 0 }]
    }
  });
  title.push({
    text: '{s|' + panelTags[i] + '}{i|R}{n| = ' + panelR[i] + ' fm}',
    right: p.titleRight, top: 32, z: 20,
    padding: [12, 30, 12, 28],
    backgroundColor: '#fff', borderColor: '#000', borderWidth: 4, borderRadius: 20,
    textStyle: { fontWeight: 'normal', rich: {
      s: { fontFamily: 'DejaVu Sans', fontWeight: 'normal', fontSize: 60, lineHeight: 80, color: '#000' },
      i: { fontFamily: SERIF, fontWeight: 'normal', fontStyle: 'italic', fontSize: 66, lineHeight: 80, color: '#000' },
      n: { fontFamily: SERIF, fontWeight: 'normal', fontSize: 66, lineHeight: 80, color: '#000' }
    } }
  });
});

// legend (drawn in panel c)
const legRich = {
  m: { fontFamily: SERIF, fontSize: 55, lineHeight: 80 },
  b: { fontFamily: "'DejaVu Sans', sans-serif", fontSize: 64, lineHeight: 80 },
  T: { fontFamily: SERIF, fontSize: 58, lineHeight: 80 },
  sp: { fontFamily: SERIF, fontSize: 35, lineHeight: 56, verticalAlign: 'top', width: 2 },
  sb: { fontFamily: SERIF, fontSize: 35, lineHeight: 40, verticalAlign: 'bottom' },
  sbi: { fontFamily: SERIF, fontStyle: 'italic', fontSize: 35, lineHeight: 40, verticalAlign: 'bottom' },
  p: { fontFamily: SERIF, fontSize: 62, lineHeight: 80 },
  it: { fontFamily: SERIF, fontStyle: 'italic', fontSize: 55, lineHeight: 80 },
  q: { fontFamily: SERIF, fontStyle: 'italic', fontSize: 38, lineHeight: 46, verticalAlign: 'bottom' },
  s3: { fontFamily: SERIF, fontSize: 35, lineHeight: 46, verticalAlign: 'top' }
};
const tail = '{p|(}{it|r}{p|)}{b|⟩}{q|QQ̄}{m| [GeV/fm}{s3|3}{m|]}';
const legRows = [
  { color: '#d62728', dir: 'up', y: 203, x: 2665, text: '{m|−}{b|⟨}{T|𝒯}{sp|R}{sb|44}' + tail },
  { color: '#1f77b4', dir: 'down', y: 298, x: 2665, text: '{m|−}{b|⟨}{T|𝒯}{sp|R}{sbi|zz}' + tail },
  { color: '#ff7f0e', dir: 'left', y: 393, x: 2708, text: '{b|⟨}{T|𝒯}{sp|R}{sbi|rr}' + tail },
  { color: '#2ca02c', dir: 'right', y: 486, x: 2708, text: '{b|⟨}{T|𝒯}{sp|R}{sbi|θθ}' + tail }
];
const graphic = [{
  type: 'rect', z: 100, silent: true,
  shape: { x: 2496, y: 147, width: 731, height: 395, r: 10 },
  style: { fill: 'rgba(255,255,255,0.8)', stroke: '#cccccc', lineWidth: 3 }
}];
legRows.forEach(row => {
  errPieces(2568, row.y, row.y - 27, row.y + 27, row.dir, row.color).forEach(el => {
    el.z = 101; el.silent = true; graphic.push(el);
  });
  graphic.push({
    type: 'text', x: row.x, y: row.y, z: 102, silent: true,
    style: { text: row.text, rich: legRich, fill: '#000', align: 'left', verticalAlign: 'middle' }
  });
});

const chart = echarts.init(document.getElementById('chart'), null, { renderer: 'canvas' });
chart.setOption({
  animation: false,
  backgroundColor: '#fff',
  title, grid, xAxis, yAxis, series, graphic
});
</script>
</body>
</html>
